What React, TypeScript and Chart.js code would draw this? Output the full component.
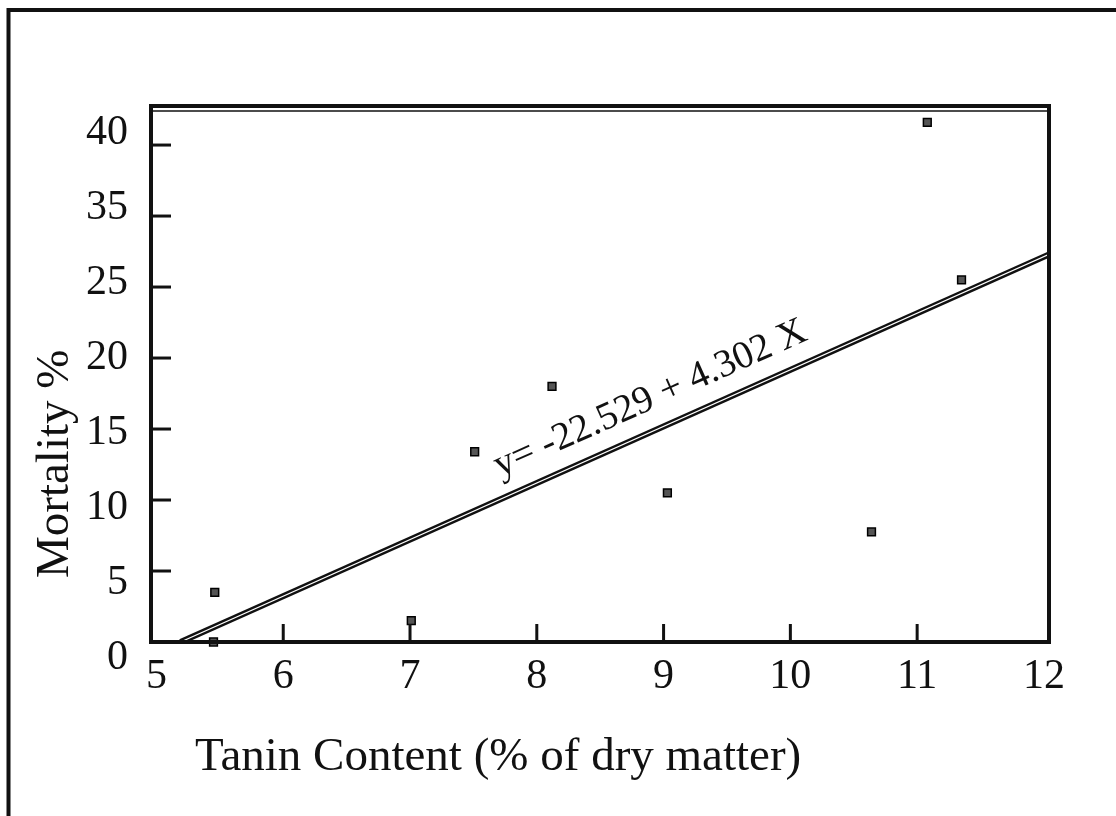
import React, { useEffect, useRef } from "react";
import { Chart, registerables } from "chart.js";

Chart.register(...registerables);

// ---- data ----
const xTickValues = [5, 6, 7, 8, 9, 10, 11, 12];
const xTickLabels = ["5", "6", "7", "8", "9", "10", "11", "12"];
const yTickValues = [0, 5, 10, 15, 20, 25, 30, 35];
const yTickLabels = ["0", "5", "10", "15", "20", "25", "35", "40"];

const tanin = [5.46, 5.45, 7.01, 7.51, 8.12, 9.03, 10.64, 11.08, 11.35];
const mortality = [3.5, 0, 1.5, 13.4, 18.0, 10.5, 7.75, 36.6, 25.5];

const fitX = [5.19, 12.04];
const fitY = [0, 27.3];

const equationText = "y= -22.529 + 4.302 X";
const equationAnchor = [7.71, 11.6];
const xTitle = "Tanin Content (% of dry matter)";
const yTitle = "Mortality %";

const SERIF = "'Liberation Serif', 'DejaVu Serif', serif";

export default function App() {
  const ref = useRef<HTMLCanvasElement | null>(null);

  useEffect(() => {
    const canvas = ref.current;
    if (!canvas) return;

    const points = tanin.map((x, i) => ({ x, y: mortality[i] }));
    const fit = fitX.map((x, i) => ({ x, y: fitY[i] }));

    const framePlugin = {
      id: "frame",
      beforeDraw(chart: any) {
        const ctx = chart.ctx;
        ctx.save();
        ctx.fillStyle = "#ffffff";
        ctx.fillRect(0, 0, chart.width, chart.height);
        // outer page frame (top and left)
        ctx.strokeStyle = "#111";
        ctx.lineWidth = 4;
        ctx.beginPath();
        ctx.moveTo(8.5, chart.height);
        ctx.lineTo(8.5, 10);
        ctx.lineTo(chart.width, 10);
        ctx.stroke();
        ctx.restore();
      },
      afterDraw(chart: any) {
        const ctx = chart.ctx;
        const a = chart.chartArea;
        const xs = chart.scales.x;
        const ys = chart.scales.y;
        ctx.save();
        ctx.strokeStyle = "#111";
        ctx.lineCap = "butt";
        // plot box
        ctx.lineWidth = 4;
        ctx.strokeRect(a.left, a.top, a.right - a.left, a.bottom - a.top);
        // second thin line under the top edge
        ctx.lineWidth = 1.5;
        ctx.beginPath();
        ctx.moveTo(a.left, a.top + 5);
        ctx.lineTo(a.right, a.top + 5);
        ctx.stroke();
        // inward ticks
        ctx.lineWidth = 3;
        yTickValues.forEach((v, i) => {
          if (i === 0) return;
          const py = ys.getPixelForValue(v);
          ctx.beginPath();
          ctx.moveTo(a.left, py);
          ctx.lineTo(a.left + 20, py);
          ctx.stroke();
        });
        xTickValues.forEach((v, i) => {
          if (i === 0 || i === xTickValues.length - 1) return;
          const px = xs.getPixelForValue(v);
          ctx.beginPath();
          ctx.moveTo(px, a.bottom);
          ctx.lineTo(px, a.bottom - 18);
          ctx.stroke();
        });
        // regression equation along the line
        const x0 = xs.getPixelForValue(fitX[0]);
        const y0 = ys.getPixelForValue(fitY[0]);
        const x1 = xs.getPixelForValue(fitX[1]);
        const y1 = ys.getPixelForValue(fitY[1]);
        const ang = Math.atan2(y1 - y0, x1 - x0);
        ctx.fillStyle = "#111";
        ctx.font = `39px ${SERIF}`;
        ctx.textAlign = "left";
        ctx.textBaseline = "alphabetic";
        ctx.save();
        ctx.translate(
          xs.getPixelForValue(equationAnchor[0]),
          ys.getPixelForValue(equationAnchor[1])
        );
        ctx.rotate(ang);
        ctx.fillText(equationText, 0, 0);
        ctx.restore();
        // axis titles
        ctx.font = `47px ${SERIF}`;
        ctx.fillText(xTitle, 195, 770);
        ctx.save();
        ctx.translate(68, 578);
        ctx.rotate(-Math.PI / 2);
        ctx.fillText(yTitle, 0, 0);
        ctx.restore();
        ctx.restore();
      },
    };

    const chart = new Chart(canvas, {
      type: "scatter",
      data: {
        datasets: [
          {
            type: "scatter",
            data: points,
            pointStyle: "rect",
            pointRadius: 5.5,
            backgroundColor: "#555",
            borderColor: "#000",
            borderWidth: 1.5,
            clip: false,
            order: 0,
          } as any,
          {
            type: "line",
            data: fit,
            borderColor: "#ffffff",
            borderWidth: 1.2,
            pointRadius: 0,
            order: 1,
          } as any,
          {
            type: "line",
            data: fit,
            borderColor: "#111",
            borderWidth: 6,
            pointRadius: 0,
            order: 2,
          } as any,
        ],
      },
      options: {
        animation: false,
        responsive: false,
        devicePixelRatio: 1,
        layout: { padding: { left: 0, top: 106, right: 67, bottom: 0 } },
        plugins: {
          legend: { display: false },
          tooltip: { enabled: false },
          title: { display: false },
        },
        scales: {
          x: {
            type: "linear",
            position: "bottom",
            min: 4.957,
            max: 12.04,
            afterBuildTicks: (s: any) => {
              s.ticks = xTickValues.map((v) => ({ value: v }));
            },
            afterFit: (s: any) => {
              s.height = 174;
            },
            grid: { display: false, drawTicks: false },
            border: { display: false },
            ticks: {
              autoSkip: false,
              maxRotation: 0,
              padding: 10,
              color: "#111",
              font: { family: SERIF, size: 42 },
              callback: (_v: any, i: number) => xTickLabels[i],
            },
          },
          y: {
            type: "linear",
            display: false,
            min: 0,
            max: 37.75,
          },
          yl: {
            type: "linear",
            position: "left",
            min: 1.0667,
            max: 36.8,
            afterBuildTicks: (s: any) => {
              s.ticks = yTickValues.map((v) => ({ value: v }));
            },
            afterFit: (s: any) => {
              s.width = 151;
            },
            grid: { display: false, drawTicks: false },
            border: { display: false },
            ticks: {
              autoSkip: false,
              padding: 23,
              color: "#111",
              font: { family: SERIF, size: 42 },
              callback: (_v: any, i: number) => yTickLabels[i],
            },
          },
        },
      } as any,
      plugins: [framePlugin],
    });

    return () => chart.destroy();
  }, []);

  return (
    <div style={{ position: "absolute", left: 0, top: 0, width: 1116, height: 816 }}>
      <canvas ref={ref} width={1116} height={816} style={{ width: 1116, height: 816 }} />
    </div>
  );
}
